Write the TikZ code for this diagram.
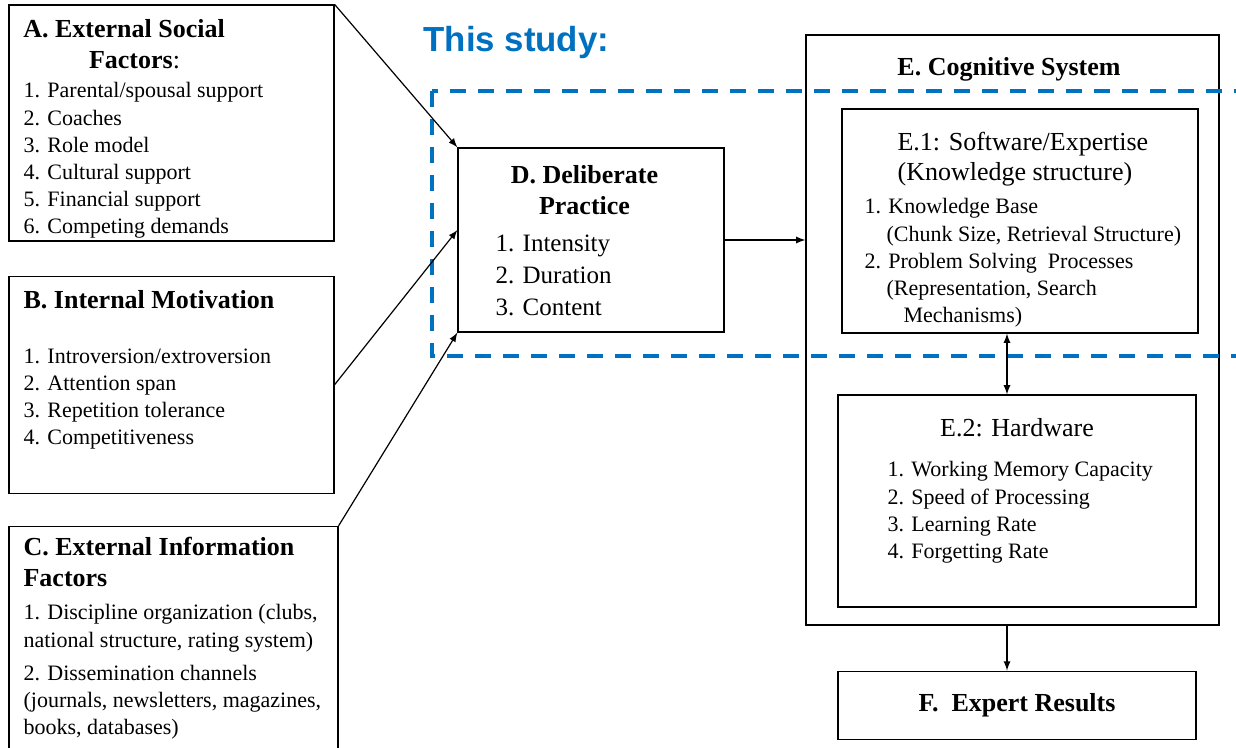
\documentclass[tikz,border=0pt]{standalone}
\usepackage{fontspec}
\setmainfont{Liberation Serif}
\newfontfamily\studyfont{Liberation Sans}
\usetikzlibrary{arrows,positioning,calc}
\definecolor{studyblue}{RGB}{0,112,192}
\newcommand{\titlefont}{\fontsize{13}{15.5}\selectfont\bfseries}
\newcommand{\itemfont}{\fontsize{11}{13.6}\selectfont}

\begin{document}
\begin{tikzpicture}[
    x=0.5pt, y=-0.5pt,
    box/.style={draw, inner sep=0pt},
    head/.style={font=\titlefont, align=center, inner sep=0pt},
    subhead/.style={font=\fontsize{13}{15}\selectfont, align=left, inner sep=0pt},
    list/.style={font=\itemfont, align=left, inner sep=0pt, anchor=north west},
    ->, >=latex, line width=0.6pt
]

% Boxes
\node[box, minimum width=162.5pt, minimum height=118pt] (social) at (171.5,123) {};
\node[box, below=17pt of social, minimum width=162.5pt, minimum height=108.5pt] (motiv) {};
\node[box, below right=16pt and 0pt of motiv.south west, minimum width=164.5pt, minimum height=120pt] (info) {};
\node[box, minimum width=133pt, minimum height=92pt] (pract) at (591,240) {};
\node[box, minimum width=206.5pt, minimum height=295pt] (cog) at (1012.5,330) {};
\node[box, minimum width=178pt, minimum height=112pt] (soft) at (1020,221) {};
\node[box, minimum width=179pt, minimum height=106pt] (hard) at (1017,501) {};
\node[box, below=31.5pt of hard, minimum width=179pt, minimum height=34pt, font=\titlefont] (res) {F.\ \ Expert Results};

% Texts inside the boxes
\node[head, anchor=north] (socialhead) at (124,19) {A. External Social\\\hspace*{10.5pt}Factors{\mdseries:}};
\node[list] (sociallist) at (23,82) {1. Parental/spousal support\\2. Coaches\\3. Role model\\4. Cultural support\\5. Financial support\\6. Competing demands};
\node[head, anchor=north west] (motivhead) at (23,290) {B. Internal Motivation};
\node[list] (motivlist) at (23,348) {1. Introversion/extroversion\\2. Attention span\\3. Repetition tolerance\\4. Competitiveness};
\node[head, anchor=north west, align=left] (infohead) at (23,537) {C. External Information\\Factors};
\node[list] (infolist) at (23,604) {1. Discipline organization (clubs,\\national structure, rating system)\\[3pt]2. Dissemination channels\\(journals, newsletters, magazines,\\books, databases)};
\node[head, anchor=north] (practhead) at (584.5,165) {D. Deliberate\\Practice};
\node[list, font=\fontsize{12.5}{16}\selectfont] (practlist) at (495,234) {1. Intensity\\2. Duration\\3. Content};
\node[head, anchor=north] (coghead) at (1009,57) {E. Cognitive System};
\node[subhead, anchor=north west] (softhead) at (897,132) {E.1: Software/Expertise\\(Knowledge structure)};
\node[list] (softlist) at (864,198) {1. Knowledge Base\\\hspace*{11pt}(Chunk Size, Retrieval Structure)\\2. Problem Solving~ Processes\\\hspace*{11pt}(Representation, Search\\\hspace*{19.5pt}Mechanisms)};
\node[subhead, anchor=north] (hardhead) at (1017,418) {E.2: Hardware};
\node[list] (hardlist) at (887,461) {1. Working Memory Capacity\\2. Speed of Processing\\3. Learning Rate\\4. Forgetting Rate};

% This study
\node[anchor=base west, inner sep=0pt, text=studyblue, font=\studyfont\fontsize{17.4}{20}\selectfont\bfseries] (study) at (423,52) {This study:};
\draw[-, studyblue, line width=1.7pt, dash pattern=on 8pt off 6pt] (432,91) rectangle (1262,356);

% Arrows
\coordinate (linkx) at ($(hard.north)+(-10,0)$);
\draw (social.north east) -- (pract.north west);
\draw (motiv.east) -- ([yshift=5pt]pract.west);
\draw (info.north east) -- (pract.south west);
\draw (pract.east) -- (pract.east -| cog.west);
\draw[<->] (linkx |- soft.south) -- (linkx);
\draw (linkx |- cog.south) -- (linkx |- res.north);

\pgfresetboundingbox
\path[use as bounding box] (0,0) rectangle (1236,748);

\end{tikzpicture}
\end{document}
